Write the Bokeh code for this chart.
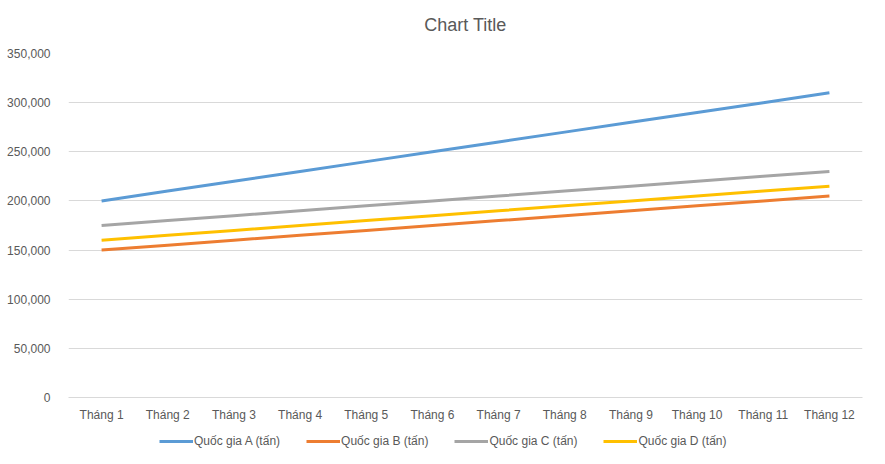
from bokeh.plotting import figure
from bokeh.layouts import column
from bokeh.core.properties import value
from bokeh.models import Range1d, FactorRange, NumeralTickFormatter, Legend, LegendItem, SingleIntervalTicker
from bokeh.embed import file_html
from bokeh.resources import INLINE

title_text = "Chart Title"
months = ["Tháng 1", "Tháng 2", "Tháng 3", "Tháng 4", "Tháng 5", "Tháng 6",
          "Tháng 7", "Tháng 8", "Tháng 9", "Tháng 10", "Tháng 11", "Tháng 12"]
series_a = [200000, 210000, 220000, 230000, 240000, 250000, 260000, 270000, 280000, 290000, 300000, 310000]
series_b = [150000, 155000, 160000, 165000, 170000, 175000, 180000, 185000, 190000, 195000, 200000, 205000]
series_c = [175000, 180000, 185000, 190000, 195000, 200000, 205000, 210000, 215000, 220000, 225000, 230000]
series_d = [160000, 165000, 170000, 175000, 180000, 185000, 190000, 195000, 200000, 205000, 210000, 215000]
names = ["Quốc gia A (tấn)", "Quốc gia B (tấn)", "Quốc gia C (tấn)", "Quốc gia D (tấn)"]
colors = ["#5B9BD5", "#ED7D31", "#A5A5A5", "#FFC000"]

FONT = "Liberation Sans"
TXT = "#595959"


def strip(h):
    f = figure(width=885, height=h, x_range=Range1d(0, 885), y_range=Range1d(0, h),
               output_backend="svg", toolbar_location=None,
               min_border_left=0, min_border_right=0, min_border_top=0, min_border_bottom=0)
    f.axis.visible = False
    f.grid.visible = False
    f.outline_line_color = None
    f.border_fill_color = "white"
    return f


# title strip
tf = strip(43)
tf.text(x=[442.5], y=[19], text=[title_text], text_align="center", text_baseline="middle",
        text_font=value(FONT), text_font_size="18px", text_color=TXT)

# main chart
p = figure(width=885, height=382, x_range=FactorRange(*months), y_range=Range1d(0, 350000),
           output_backend="svg", toolbar_location=None,
           min_border_left=68, min_border_right=23, min_border_top=10, min_border_bottom=28)
p.outline_line_color = None
p.background_fill_color = "white"
p.border_fill_color = "white"

p.xgrid.grid_line_color = None
p.ygrid.grid_line_color = "#d9d9d9"
p.ygrid.grid_line_width = 1

p.yaxis.formatter = NumeralTickFormatter(format="0,0")
p.yaxis.ticker = SingleIntervalTicker(interval=50000)
p.yaxis.axis_line_color = None
p.yaxis.major_tick_line_color = None
p.yaxis.minor_tick_line_color = None
p.yaxis.major_label_text_font = FONT
p.yaxis.major_label_text_font_size = "12px"
p.yaxis.major_label_text_color = TXT
p.yaxis.major_label_standoff = 12

p.xaxis.axis_line_color = "#d9d9d9"
p.xaxis.major_tick_line_color = None
p.xaxis.minor_tick_line_color = None
p.xaxis.major_label_text_font = FONT
p.xaxis.major_label_text_font_size = "12px"
p.xaxis.major_label_text_color = TXT
p.xaxis.major_label_standoff = 4

for vals, col in zip([series_a, series_b, series_c, series_d], colors):
    p.line(months, vals, line_color=col, line_width=3)

# legend strip below the chart
lf = strip(39)
items = []
for name, col in zip(names, colors):
    r = lf.line([-100, -90], [-100, -90], line_color=col, line_width=3)
    items.append(LegendItem(label=name, renderers=[r]))
legend = Legend(items=items, orientation="horizontal", location=(91, 16),
                glyph_width=34, glyph_height=12, label_standoff=1, spacing=26,
                label_text_font=FONT, label_text_font_size="12px", label_text_color=TXT,
                border_line_color=None, background_fill_alpha=0, padding=0, margin=0)
lf.add_layout(legend, "center")

layout = column(tf, p, lf, spacing=0)
open("out.html", "w").write(file_html(layout, INLINE))
